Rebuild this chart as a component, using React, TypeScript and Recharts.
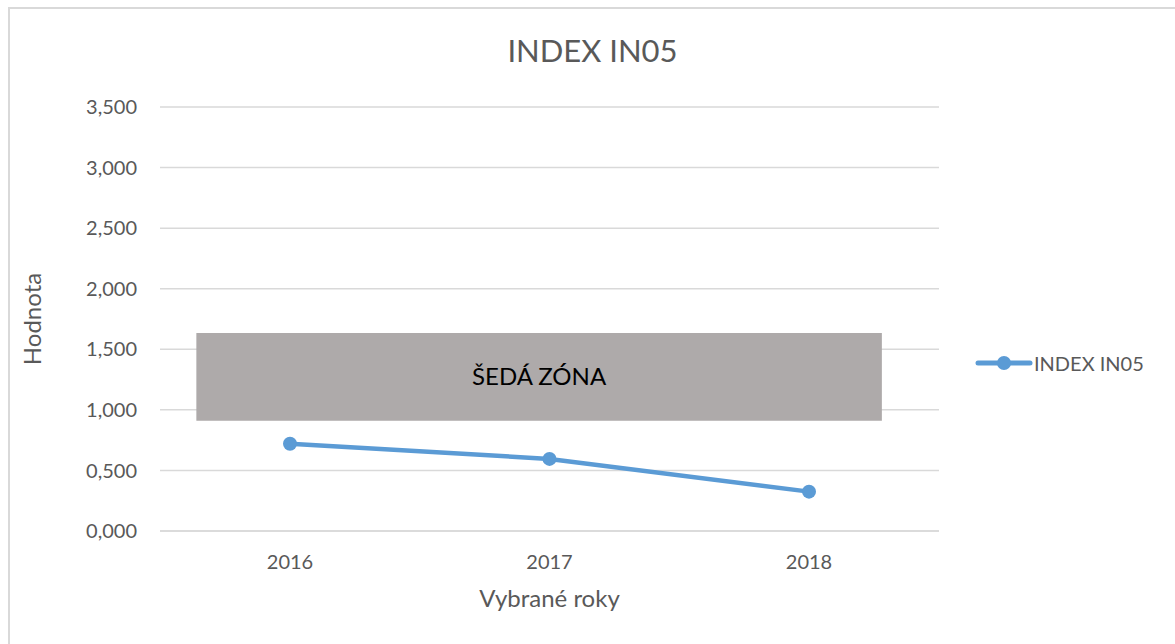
import React from 'react';
import {
  LineChart,
  Line,
  XAxis,
  YAxis,
  CartesianGrid,
  ReferenceArea,
  Legend,
  Label,
} from 'recharts';

// ---- data ----
const years = ['2016', '2017', '2018'];
const in05Values = [0.72, 0.595, 0.325];
const yTicks = [0, 0.5, 1, 1.5, 2, 2.5, 3, 3.5];
const seriesName = 'INDEX IN05';
const chartTitle = 'INDEX IN05';
const zoneLabel = 'ŠEDÁ ZÓNA';
// zone horizontal extent, in category-index units (0 = 2016, 2 = 2018)
const zoneX = [-0.36, 2.28];
const zoneY = [0.91, 1.635];
const xTitle = 'Vybrané roky';
const yTitle = 'Hodnota';

const data = years.map((y, i) => ({ year: y, pos: i, value: in05Values[i] }));

const FONT = 'Lato, "Open Sans", sans-serif';
const TEXT = '#595959';
const LINE = '#5B9BD5';
const GRID = '#D9D9D9';
const LEGEND_W = 195;

const fmt = (v: number) => v.toFixed(3).replace('.', ',');

const LegendContent = () => (
  <div style={{ display: 'flex', alignItems: 'center', fontFamily: FONT, fontSize: 20, color: TEXT }}>
    <svg width={58} height={20} style={{ display: 'block' }}>
      <line x1={3} y1={10} x2={55} y2={10} stroke={LINE} strokeWidth={5} strokeLinecap="round" />
      <circle cx={29} cy={10} r={7} fill={LINE} />
    </svg>
    <span style={{ marginLeft: 1 }}>{seriesName}</span>
  </div>
);

export default function App() {
  return (
    <div
      style={{
        position: 'fixed',
        left: 0,
        top: 0,
        width: 1175,
        height: 644,
        overflow: 'hidden',
        background: '#fff',
      }}
    >
      <div
        style={{
          position: 'absolute',
          left: 8,
          top: 7,
          width: 1300,
          height: 800,
          border: `2px solid ${GRID}`,
          boxSizing: 'border-box',
        }}
      />
      <div
        style={{
          position: 'absolute',
          left: 0,
          top: 31,
          width: 1185,
          textAlign: 'center',
          fontFamily: FONT,
          fontSize: 31,
          color: TEXT,
          lineHeight: 'normal',
        }}
      >
        {chartTitle}
      </div>
      <div style={{ position: 'absolute', left: 0, top: 0 }}>
        <LineChart
          width={1175}
          height={644}
          data={data}
          margin={{ top: 107, right: 236 - LEGEND_W, bottom: 0, left: 0 }}
        >
          <CartesianGrid vertical={false} stroke={GRID} strokeWidth={1.5} />
          <XAxis
            dataKey="year"
            height={113}
            padding={{ left: 130, right: 130 }}
            axisLine={{ stroke: GRID, strokeWidth: 1.5 }}
            tickLine={false}
            tickSize={0}
            tickMargin={24}
            tick={{ fill: TEXT, fontSize: 20, fontFamily: FONT }}
          >
            <Label
              content={(props: any) => {
                const vb = props.viewBox;
                return (
                  <text
                    x={vb.x + vb.width / 2}
                    y={vb.y + 76}
                    textAnchor="middle"
                    fill={TEXT}
                    fontSize={24}
                    fontFamily={FONT}
                  >
                    {xTitle}
                  </text>
                );
              }}
            />
          </XAxis>
          <XAxis
            xAxisId="zone"
            dataKey="pos"
            type="number"
            domain={[-0.5, 2.5]}
            allowDataOverflow
            hide
          />
          <YAxis
            width={160}
            domain={[0, 3.5]}
            ticks={yTicks}
            interval={0}
            axisLine={false}
            tickLine={false}
            tickSize={0}
            tickMargin={23}
            tickFormatter={fmt}
            tick={{ fill: TEXT, fontSize: 20, fontFamily: FONT }}
          >
            <Label
              content={(props: any) => {
                const vb = props.viewBox;
                const cx = vb.x + 41;
                const cy = vb.y + vb.height / 2;
                return (
                  <text
                    x={cx}
                    y={cy}
                    textAnchor="middle"
                    transform={`rotate(-90 ${cx} ${cy})`}
                    fill={TEXT}
                    fontSize={24}
                    fontFamily={FONT}
                  >
                    {yTitle}
                  </text>
                );
              }}
            />
          </YAxis>
          <ReferenceArea
            xAxisId="zone"
            x1={zoneX[0]}
            x2={zoneX[1]}
            y1={zoneY[0]}
            y2={zoneY[1]}
            fill="#AEAAAA"
            fillOpacity={1}
            stroke="none"
            ifOverflow="visible"
          >
            <Label value={zoneLabel} position="center" fill="#000" fontSize={24} fontFamily={FONT} />
          </ReferenceArea>
          <Line
            type="linear"
            dataKey="value"
            name={seriesName}
            stroke={LINE}
            strokeWidth={4.5}
            dot={{ r: 7, fill: LINE, stroke: 'none' }}
            activeDot={false}
            isAnimationActive={false}
          />
          <Legend
            layout="horizontal"
            verticalAlign="middle"
            align="right"
            content={LegendContent}
            wrapperStyle={{ left: 975, top: 351, width: LEGEND_W, right: 'auto' }}
          />
        </LineChart>
      </div>
    </div>
  );
}
